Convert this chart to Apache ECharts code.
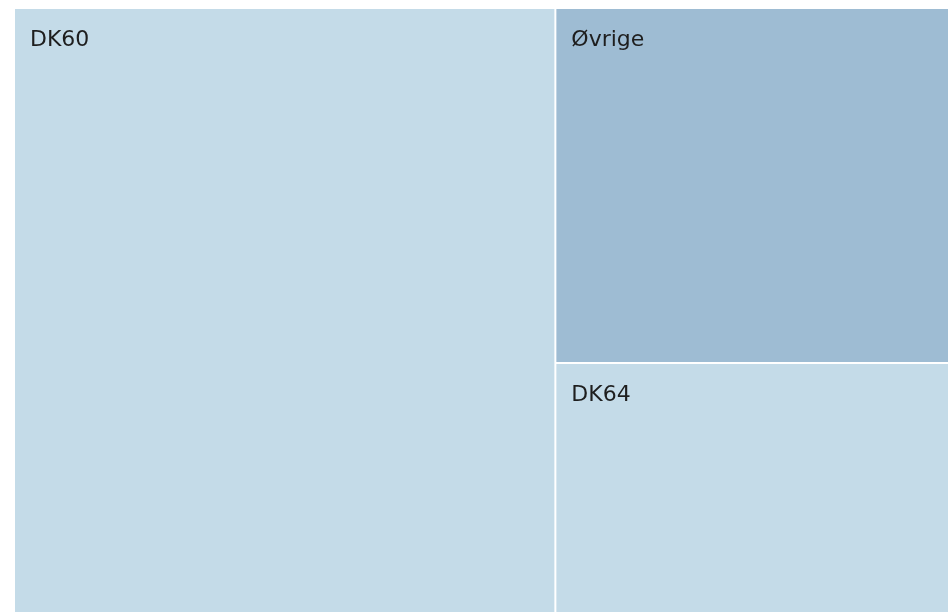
<!DOCTYPE html>
<html>
<head>
<meta charset="utf-8">
<script src="https://cdn.jsdelivr.net/npm/echarts@6/dist/echarts.min.js"></script>
<style>
  html, body { margin: 0; padding: 0; background: #ffffff; }
  #chart { width: 948px; height: 612px; }
</style>
</head>
<body>
<div id="chart"></div>
<script>
const names = ['DK60', 'Øvrige', 'DK64'];
const values = [57.9, 24.7, 17.4];
const fills = ['#c4dbe8', '#9ebcd3', '#c4dbe8'];

const chart = echarts.init(document.getElementById('chart'), null, { renderer: 'canvas' });

chart.setOption({
  animation: false,
  series: [{
    type: 'treemap',
    left: 15,
    top: 9,
    right: 0,
    bottom: 0,
    roam: false,
    nodeClick: false,
    breadcrumb: { show: false },
    sort: 'desc',
    levels: [{
      itemStyle: { borderWidth: 0, gapWidth: 2, borderColor: '#ffffff' }
    }],
    label: {
      show: true,
      position: [10, 15],
      color: '#1e1e1e',
      fontFamily: 'DejaVu Sans',
      fontSize: 22
    },
    data: names.map((name, i) => ({
      name,
      value: values[i],
      itemStyle: { color: fills[i] }
    }))
  }]
});
</script>
</body>
</html>
